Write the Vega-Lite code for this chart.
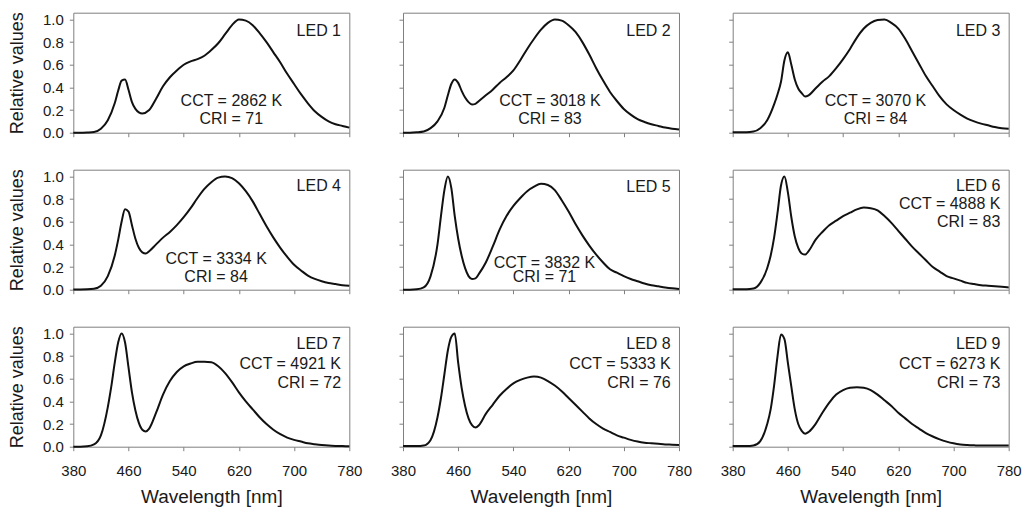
{
  "$schema": "https://vega.github.io/schema/vega-lite/v6.json",
  "padding": {"left": 7.3, "top": 10.7, "right": 5, "bottom": 2},
  "background": "white",
  "datasets": {
    "spectra": [
      {"led":"LED 1","wl":380,"v":0},{"led":"LED 1","wl":390,"v":0},{"led":"LED 1","wl":400,"v":0.002},{"led":"LED 1","wl":410,"v":0.006},{"led":"LED 1","wl":420,"v":0.035},{"led":"LED 1","wl":430,"v":0.11},{"led":"LED 1","wl":440,"v":0.26},{"led":"LED 1","wl":445,"v":0.37},{"led":"LED 1","wl":450,"v":0.46},{"led":"LED 1","wl":455,"v":0.47},{"led":"LED 1","wl":460,"v":0.38},{"led":"LED 1","wl":465,"v":0.27},{"led":"LED 1","wl":470,"v":0.21},{"led":"LED 1","wl":475,"v":0.18},{"led":"LED 1","wl":480,"v":0.17},{"led":"LED 1","wl":490,"v":0.2},{"led":"LED 1","wl":500,"v":0.3},{"led":"LED 1","wl":510,"v":0.41},{"led":"LED 1","wl":520,"v":0.49},{"led":"LED 1","wl":530,"v":0.55},{"led":"LED 1","wl":540,"v":0.6},{"led":"LED 1","wl":550,"v":0.63},{"led":"LED 1","wl":560,"v":0.65},{"led":"LED 1","wl":570,"v":0.68},{"led":"LED 1","wl":580,"v":0.73},{"led":"LED 1","wl":590,"v":0.79},{"led":"LED 1","wl":600,"v":0.87},{"led":"LED 1","wl":610,"v":0.95},{"led":"LED 1","wl":620,"v":1.0},{"led":"LED 1","wl":630,"v":0.99},{"led":"LED 1","wl":640,"v":0.95},{"led":"LED 1","wl":650,"v":0.88},{"led":"LED 1","wl":660,"v":0.8},{"led":"LED 1","wl":670,"v":0.71},{"led":"LED 1","wl":680,"v":0.62},{"led":"LED 1","wl":690,"v":0.52},{"led":"LED 1","wl":700,"v":0.43},{"led":"LED 1","wl":710,"v":0.34},{"led":"LED 1","wl":720,"v":0.26},{"led":"LED 1","wl":730,"v":0.19},{"led":"LED 1","wl":740,"v":0.14},{"led":"LED 1","wl":750,"v":0.1},{"led":"LED 1","wl":760,"v":0.075},{"led":"LED 1","wl":770,"v":0.06},{"led":"LED 1","wl":780,"v":0.045},

      {"led":"LED 2","wl":380,"v":0},{"led":"LED 2","wl":390,"v":0},{"led":"LED 2","wl":400,"v":0.003},{"led":"LED 2","wl":410,"v":0.01},{"led":"LED 2","wl":420,"v":0.04},{"led":"LED 2","wl":430,"v":0.1},{"led":"LED 2","wl":440,"v":0.22},{"led":"LED 2","wl":445,"v":0.33},{"led":"LED 2","wl":450,"v":0.43},{"led":"LED 2","wl":455,"v":0.47},{"led":"LED 2","wl":460,"v":0.44},{"led":"LED 2","wl":465,"v":0.37},{"led":"LED 2","wl":470,"v":0.31},{"led":"LED 2","wl":475,"v":0.27},{"led":"LED 2","wl":480,"v":0.25},{"led":"LED 2","wl":485,"v":0.255},{"led":"LED 2","wl":490,"v":0.28},{"led":"LED 2","wl":500,"v":0.33},{"led":"LED 2","wl":510,"v":0.38},{"led":"LED 2","wl":520,"v":0.44},{"led":"LED 2","wl":530,"v":0.49},{"led":"LED 2","wl":540,"v":0.55},{"led":"LED 2","wl":550,"v":0.64},{"led":"LED 2","wl":560,"v":0.74},{"led":"LED 2","wl":570,"v":0.83},{"led":"LED 2","wl":580,"v":0.91},{"led":"LED 2","wl":590,"v":0.97},{"led":"LED 2","wl":600,"v":1.0},{"led":"LED 2","wl":610,"v":0.99},{"led":"LED 2","wl":620,"v":0.95},{"led":"LED 2","wl":630,"v":0.89},{"led":"LED 2","wl":640,"v":0.8},{"led":"LED 2","wl":650,"v":0.69},{"led":"LED 2","wl":660,"v":0.57},{"led":"LED 2","wl":670,"v":0.46},{"led":"LED 2","wl":680,"v":0.36},{"led":"LED 2","wl":690,"v":0.28},{"led":"LED 2","wl":700,"v":0.21},{"led":"LED 2","wl":710,"v":0.16},{"led":"LED 2","wl":720,"v":0.12},{"led":"LED 2","wl":730,"v":0.095},{"led":"LED 2","wl":740,"v":0.075},{"led":"LED 2","wl":750,"v":0.06},{"led":"LED 2","wl":760,"v":0.045},{"led":"LED 2","wl":770,"v":0.035},{"led":"LED 2","wl":780,"v":0.028},

      {"led":"LED 3","wl":380,"v":0.005},{"led":"LED 3","wl":390,"v":0.005},{"led":"LED 3","wl":400,"v":0.005},{"led":"LED 3","wl":410,"v":0.01},{"led":"LED 3","wl":420,"v":0.04},{"led":"LED 3","wl":430,"v":0.11},{"led":"LED 3","wl":440,"v":0.25},{"led":"LED 3","wl":445,"v":0.34},{"led":"LED 3","wl":450,"v":0.45},{"led":"LED 3","wl":455,"v":0.64},{"led":"LED 3","wl":460,"v":0.71},{"led":"LED 3","wl":465,"v":0.6},{"led":"LED 3","wl":470,"v":0.47},{"led":"LED 3","wl":475,"v":0.39},{"led":"LED 3","wl":480,"v":0.35},{"led":"LED 3","wl":485,"v":0.32},{"led":"LED 3","wl":490,"v":0.33},{"led":"LED 3","wl":500,"v":0.39},{"led":"LED 3","wl":510,"v":0.45},{"led":"LED 3","wl":520,"v":0.5},{"led":"LED 3","wl":530,"v":0.57},{"led":"LED 3","wl":540,"v":0.65},{"led":"LED 3","wl":550,"v":0.74},{"led":"LED 3","wl":560,"v":0.84},{"led":"LED 3","wl":570,"v":0.92},{"led":"LED 3","wl":580,"v":0.97},{"led":"LED 3","wl":590,"v":0.995},{"led":"LED 3","wl":600,"v":1.0},{"led":"LED 3","wl":610,"v":0.97},{"led":"LED 3","wl":620,"v":0.92},{"led":"LED 3","wl":630,"v":0.83},{"led":"LED 3","wl":640,"v":0.72},{"led":"LED 3","wl":650,"v":0.61},{"led":"LED 3","wl":660,"v":0.5},{"led":"LED 3","wl":670,"v":0.41},{"led":"LED 3","wl":680,"v":0.32},{"led":"LED 3","wl":690,"v":0.25},{"led":"LED 3","wl":700,"v":0.2},{"led":"LED 3","wl":710,"v":0.16},{"led":"LED 3","wl":720,"v":0.125},{"led":"LED 3","wl":730,"v":0.1},{"led":"LED 3","wl":740,"v":0.08},{"led":"LED 3","wl":750,"v":0.065},{"led":"LED 3","wl":760,"v":0.05},{"led":"LED 3","wl":770,"v":0.04},{"led":"LED 3","wl":780,"v":0.035},

      {"led":"LED 4","wl":380,"v":0.002},{"led":"LED 4","wl":390,"v":0.002},{"led":"LED 4","wl":400,"v":0.003},{"led":"LED 4","wl":410,"v":0.008},{"led":"LED 4","wl":420,"v":0.035},{"led":"LED 4","wl":430,"v":0.12},{"led":"LED 4","wl":440,"v":0.3},{"led":"LED 4","wl":445,"v":0.44},{"led":"LED 4","wl":450,"v":0.6},{"led":"LED 4","wl":455,"v":0.71},{"led":"LED 4","wl":460,"v":0.69},{"led":"LED 4","wl":465,"v":0.57},{"led":"LED 4","wl":470,"v":0.45},{"led":"LED 4","wl":475,"v":0.37},{"led":"LED 4","wl":480,"v":0.33},{"led":"LED 4","wl":485,"v":0.32},{"led":"LED 4","wl":490,"v":0.34},{"led":"LED 4","wl":500,"v":0.4},{"led":"LED 4","wl":510,"v":0.46},{"led":"LED 4","wl":520,"v":0.51},{"led":"LED 4","wl":530,"v":0.57},{"led":"LED 4","wl":540,"v":0.64},{"led":"LED 4","wl":550,"v":0.72},{"led":"LED 4","wl":560,"v":0.81},{"led":"LED 4","wl":570,"v":0.89},{"led":"LED 4","wl":580,"v":0.95},{"led":"LED 4","wl":590,"v":0.99},{"led":"LED 4","wl":600,"v":1.0},{"led":"LED 4","wl":610,"v":0.985},{"led":"LED 4","wl":620,"v":0.94},{"led":"LED 4","wl":630,"v":0.87},{"led":"LED 4","wl":640,"v":0.78},{"led":"LED 4","wl":650,"v":0.67},{"led":"LED 4","wl":660,"v":0.56},{"led":"LED 4","wl":670,"v":0.46},{"led":"LED 4","wl":680,"v":0.37},{"led":"LED 4","wl":690,"v":0.29},{"led":"LED 4","wl":700,"v":0.22},{"led":"LED 4","wl":710,"v":0.17},{"led":"LED 4","wl":720,"v":0.125},{"led":"LED 4","wl":730,"v":0.095},{"led":"LED 4","wl":740,"v":0.075},{"led":"LED 4","wl":750,"v":0.06},{"led":"LED 4","wl":760,"v":0.05},{"led":"LED 4","wl":770,"v":0.04},{"led":"LED 4","wl":780,"v":0.035},

      {"led":"LED 5","wl":380,"v":0},{"led":"LED 5","wl":390,"v":0},{"led":"LED 5","wl":400,"v":0.003},{"led":"LED 5","wl":410,"v":0.02},{"led":"LED 5","wl":420,"v":0.12},{"led":"LED 5","wl":430,"v":0.4},{"led":"LED 5","wl":435,"v":0.65},{"led":"LED 5","wl":440,"v":0.88},{"led":"LED 5","wl":445,"v":1.0},{"led":"LED 5","wl":450,"v":0.9},{"led":"LED 5","wl":455,"v":0.65},{"led":"LED 5","wl":460,"v":0.45},{"led":"LED 5","wl":465,"v":0.3},{"led":"LED 5","wl":470,"v":0.19},{"led":"LED 5","wl":475,"v":0.12},{"led":"LED 5","wl":480,"v":0.095},{"led":"LED 5","wl":485,"v":0.1},{"led":"LED 5","wl":490,"v":0.14},{"led":"LED 5","wl":500,"v":0.24},{"led":"LED 5","wl":510,"v":0.38},{"led":"LED 5","wl":520,"v":0.53},{"led":"LED 5","wl":530,"v":0.65},{"led":"LED 5","wl":540,"v":0.74},{"led":"LED 5","wl":550,"v":0.81},{"led":"LED 5","wl":560,"v":0.87},{"led":"LED 5","wl":570,"v":0.91},{"led":"LED 5","wl":580,"v":0.935},{"led":"LED 5","wl":590,"v":0.925},{"led":"LED 5","wl":600,"v":0.88},{"led":"LED 5","wl":610,"v":0.79},{"led":"LED 5","wl":620,"v":0.69},{"led":"LED 5","wl":630,"v":0.58},{"led":"LED 5","wl":640,"v":0.48},{"led":"LED 5","wl":650,"v":0.39},{"led":"LED 5","wl":660,"v":0.31},{"led":"LED 5","wl":670,"v":0.24},{"led":"LED 5","wl":680,"v":0.18},{"led":"LED 5","wl":690,"v":0.15},{"led":"LED 5","wl":700,"v":0.12},{"led":"LED 5","wl":710,"v":0.095},{"led":"LED 5","wl":720,"v":0.075},{"led":"LED 5","wl":730,"v":0.055},{"led":"LED 5","wl":740,"v":0.04},{"led":"LED 5","wl":750,"v":0.03},{"led":"LED 5","wl":760,"v":0.02},{"led":"LED 5","wl":770,"v":0.012},{"led":"LED 5","wl":780,"v":0.006},

      {"led":"LED 6","wl":380,"v":0.005},{"led":"LED 6","wl":390,"v":0.005},{"led":"LED 6","wl":400,"v":0.005},{"led":"LED 6","wl":410,"v":0.01},{"led":"LED 6","wl":420,"v":0.06},{"led":"LED 6","wl":430,"v":0.19},{"led":"LED 6","wl":435,"v":0.3},{"led":"LED 6","wl":440,"v":0.46},{"led":"LED 6","wl":445,"v":0.68},{"led":"LED 6","wl":450,"v":0.92},{"led":"LED 6","wl":455,"v":1.0},{"led":"LED 6","wl":460,"v":0.86},{"led":"LED 6","wl":465,"v":0.64},{"led":"LED 6","wl":470,"v":0.47},{"led":"LED 6","wl":475,"v":0.37},{"led":"LED 6","wl":480,"v":0.32},{"led":"LED 6","wl":485,"v":0.31},{"led":"LED 6","wl":490,"v":0.34},{"led":"LED 6","wl":500,"v":0.44},{"led":"LED 6","wl":510,"v":0.51},{"led":"LED 6","wl":520,"v":0.57},{"led":"LED 6","wl":530,"v":0.61},{"led":"LED 6","wl":540,"v":0.65},{"led":"LED 6","wl":550,"v":0.68},{"led":"LED 6","wl":560,"v":0.71},{"led":"LED 6","wl":570,"v":0.725},{"led":"LED 6","wl":580,"v":0.72},{"led":"LED 6","wl":590,"v":0.7},{"led":"LED 6","wl":600,"v":0.65},{"led":"LED 6","wl":610,"v":0.59},{"led":"LED 6","wl":620,"v":0.52},{"led":"LED 6","wl":630,"v":0.45},{"led":"LED 6","wl":640,"v":0.38},{"led":"LED 6","wl":650,"v":0.32},{"led":"LED 6","wl":660,"v":0.26},{"led":"LED 6","wl":670,"v":0.2},{"led":"LED 6","wl":680,"v":0.16},{"led":"LED 6","wl":690,"v":0.12},{"led":"LED 6","wl":700,"v":0.1},{"led":"LED 6","wl":710,"v":0.08},{"led":"LED 6","wl":720,"v":0.06},{"led":"LED 6","wl":730,"v":0.05},{"led":"LED 6","wl":740,"v":0.04},{"led":"LED 6","wl":750,"v":0.035},{"led":"LED 6","wl":760,"v":0.03},{"led":"LED 6","wl":770,"v":0.025},{"led":"LED 6","wl":780,"v":0.02},

      {"led":"LED 7","wl":380,"v":0},{"led":"LED 7","wl":390,"v":0},{"led":"LED 7","wl":400,"v":0.003},{"led":"LED 7","wl":410,"v":0.02},{"led":"LED 7","wl":420,"v":0.1},{"led":"LED 7","wl":430,"v":0.35},{"led":"LED 7","wl":435,"v":0.53},{"led":"LED 7","wl":440,"v":0.74},{"led":"LED 7","wl":445,"v":0.92},{"led":"LED 7","wl":450,"v":1.0},{"led":"LED 7","wl":455,"v":0.92},{"led":"LED 7","wl":460,"v":0.7},{"led":"LED 7","wl":465,"v":0.48},{"led":"LED 7","wl":470,"v":0.32},{"led":"LED 7","wl":475,"v":0.21},{"led":"LED 7","wl":480,"v":0.15},{"led":"LED 7","wl":485,"v":0.135},{"led":"LED 7","wl":490,"v":0.16},{"led":"LED 7","wl":500,"v":0.3},{"led":"LED 7","wl":510,"v":0.46},{"led":"LED 7","wl":520,"v":0.58},{"led":"LED 7","wl":530,"v":0.66},{"led":"LED 7","wl":540,"v":0.71},{"led":"LED 7","wl":550,"v":0.735},{"led":"LED 7","wl":560,"v":0.75},{"led":"LED 7","wl":570,"v":0.75},{"led":"LED 7","wl":580,"v":0.745},{"led":"LED 7","wl":590,"v":0.71},{"led":"LED 7","wl":600,"v":0.65},{"led":"LED 7","wl":610,"v":0.57},{"led":"LED 7","wl":620,"v":0.48},{"led":"LED 7","wl":630,"v":0.4},{"led":"LED 7","wl":640,"v":0.33},{"led":"LED 7","wl":650,"v":0.26},{"led":"LED 7","wl":660,"v":0.2},{"led":"LED 7","wl":670,"v":0.15},{"led":"LED 7","wl":680,"v":0.11},{"led":"LED 7","wl":690,"v":0.08},{"led":"LED 7","wl":700,"v":0.06},{"led":"LED 7","wl":710,"v":0.045},{"led":"LED 7","wl":720,"v":0.03},{"led":"LED 7","wl":730,"v":0.022},{"led":"LED 7","wl":740,"v":0.015},{"led":"LED 7","wl":750,"v":0.01},{"led":"LED 7","wl":760,"v":0.007},{"led":"LED 7","wl":770,"v":0.005},{"led":"LED 7","wl":780,"v":0.003},

      {"led":"LED 8","wl":380,"v":0.005},{"led":"LED 8","wl":390,"v":0.005},{"led":"LED 8","wl":400,"v":0.005},{"led":"LED 8","wl":410,"v":0.01},{"led":"LED 8","wl":420,"v":0.06},{"led":"LED 8","wl":430,"v":0.26},{"led":"LED 8","wl":435,"v":0.43},{"led":"LED 8","wl":440,"v":0.64},{"led":"LED 8","wl":445,"v":0.85},{"led":"LED 8","wl":450,"v":0.97},{"led":"LED 8","wl":455,"v":1.0},{"led":"LED 8","wl":460,"v":0.74},{"led":"LED 8","wl":465,"v":0.52},{"led":"LED 8","wl":470,"v":0.36},{"led":"LED 8","wl":475,"v":0.25},{"led":"LED 8","wl":480,"v":0.19},{"led":"LED 8","wl":485,"v":0.17},{"led":"LED 8","wl":490,"v":0.19},{"led":"LED 8","wl":500,"v":0.29},{"led":"LED 8","wl":510,"v":0.37},{"led":"LED 8","wl":520,"v":0.45},{"led":"LED 8","wl":530,"v":0.51},{"led":"LED 8","wl":540,"v":0.56},{"led":"LED 8","wl":550,"v":0.59},{"led":"LED 8","wl":560,"v":0.61},{"led":"LED 8","wl":570,"v":0.62},{"led":"LED 8","wl":580,"v":0.61},{"led":"LED 8","wl":590,"v":0.58},{"led":"LED 8","wl":600,"v":0.54},{"led":"LED 8","wl":610,"v":0.49},{"led":"LED 8","wl":620,"v":0.43},{"led":"LED 8","wl":630,"v":0.37},{"led":"LED 8","wl":640,"v":0.31},{"led":"LED 8","wl":650,"v":0.25},{"led":"LED 8","wl":660,"v":0.2},{"led":"LED 8","wl":670,"v":0.16},{"led":"LED 8","wl":680,"v":0.13},{"led":"LED 8","wl":690,"v":0.1},{"led":"LED 8","wl":700,"v":0.08},{"led":"LED 8","wl":710,"v":0.06},{"led":"LED 8","wl":720,"v":0.045},{"led":"LED 8","wl":730,"v":0.035},{"led":"LED 8","wl":740,"v":0.03},{"led":"LED 8","wl":750,"v":0.025},{"led":"LED 8","wl":760,"v":0.02},{"led":"LED 8","wl":770,"v":0.018},{"led":"LED 8","wl":780,"v":0.015},

      {"led":"LED 9","wl":380,"v":0.005},{"led":"LED 9","wl":390,"v":0.005},{"led":"LED 9","wl":400,"v":0.005},{"led":"LED 9","wl":410,"v":0.01},{"led":"LED 9","wl":420,"v":0.05},{"led":"LED 9","wl":430,"v":0.2},{"led":"LED 9","wl":435,"v":0.33},{"led":"LED 9","wl":440,"v":0.54},{"led":"LED 9","wl":445,"v":0.8},{"led":"LED 9","wl":450,"v":0.99},{"led":"LED 9","wl":455,"v":0.95},{"led":"LED 9","wl":460,"v":0.74},{"led":"LED 9","wl":465,"v":0.53},{"led":"LED 9","wl":470,"v":0.33},{"led":"LED 9","wl":475,"v":0.2},{"led":"LED 9","wl":480,"v":0.14},{"led":"LED 9","wl":485,"v":0.115},{"led":"LED 9","wl":490,"v":0.13},{"led":"LED 9","wl":500,"v":0.2},{"led":"LED 9","wl":510,"v":0.3},{"led":"LED 9","wl":520,"v":0.39},{"led":"LED 9","wl":530,"v":0.46},{"led":"LED 9","wl":540,"v":0.5},{"led":"LED 9","wl":550,"v":0.52},{"led":"LED 9","wl":560,"v":0.525},{"led":"LED 9","wl":570,"v":0.52},{"led":"LED 9","wl":580,"v":0.5},{"led":"LED 9","wl":590,"v":0.46},{"led":"LED 9","wl":600,"v":0.41},{"led":"LED 9","wl":610,"v":0.36},{"led":"LED 9","wl":620,"v":0.3},{"led":"LED 9","wl":630,"v":0.25},{"led":"LED 9","wl":640,"v":0.2},{"led":"LED 9","wl":650,"v":0.16},{"led":"LED 9","wl":660,"v":0.12},{"led":"LED 9","wl":670,"v":0.09},{"led":"LED 9","wl":680,"v":0.065},{"led":"LED 9","wl":690,"v":0.045},{"led":"LED 9","wl":700,"v":0.03},{"led":"LED 9","wl":710,"v":0.02},{"led":"LED 9","wl":720,"v":0.015},{"led":"LED 9","wl":730,"v":0.012},{"led":"LED 9","wl":740,"v":0.01},{"led":"LED 9","wl":750,"v":0.01},{"led":"LED 9","wl":760,"v":0.01},{"led":"LED 9","wl":770,"v":0.01},{"led":"LED 9","wl":780,"v":0.01}
    ],
    "notes": [
      {"led":"LED 1","note":"CCT = 2862 K\nCRI = 71"},
      {"led":"LED 2","note":"CCT = 3018 K\nCRI = 83"},
      {"led":"LED 3","note":"CCT = 3070 K\nCRI = 84"},
      {"led":"LED 4","note":"CCT = 3334 K\nCRI = 84"},
      {"led":"LED 5","note":"CCT = 3832 K\nCRI = 71"},
      {"led":"LED 6","note":"CCT = 4888 K\nCRI = 83"},
      {"led":"LED 7","note":"CCT = 4921 K\nCRI = 72"},
      {"led":"LED 8","note":"CCT = 5333 K\nCRI = 76"},
      {"led":"LED 9","note":"CCT = 6273 K\nCRI = 73"}
    ]
  },
  "data": {"name": "spectra"},
  "columns": 3,
  "spacing": {"row": 37, "column": 53.7},
  "bounds": "flush",
  "concat": [
    {"width": 276, "height": 120, "layer": [
      {"transform": [{"filter": "datum.led === 'LED 1'"}], "mark": {"type": "line", "interpolate": "monotone", "color": "#111111", "strokeWidth": 2},
       "encoding": {"x": {"field": "wl", "type": "quantitative", "scale": {"domain": [380, 780], "nice": false}, "axis": {"values": [380, 460, 540, 620, 700, 780], "labels": false, "title": null}},
                    "y": {"field": "v", "type": "quantitative", "scale": {"domain": [0, 1.06], "nice": false}, "axis": {"values": [0, 0.2, 0.4, 0.6, 0.8, 1], "format": ".1f", "labelOverlap": false, "title": "Relative values"}}}},
      {"data": {"name": "notes"}, "transform": [{"filter": "datum.led === 'LED 1'"}], "mark": {"type": "text", "align": "right", "baseline": "middle"},
       "encoding": {"x": {"datum": 768, "type": "quantitative", "axis": {"values": [380, 460, 540, 620, 700, 780], "labels": false, "title": null}}, "y": {"datum": 0.898, "type": "quantitative", "axis": {"values": [0, 0.2, 0.4, 0.6, 0.8, 1], "format": ".1f", "labelOverlap": false, "title": "Relative values"}}, "text": {"field": "led"}}},
      {"data": {"name": "notes"}, "transform": [{"filter": "datum.led === 'LED 1'"}], "mark": {"type": "text", "align": "center", "baseline": "middle", "lineBreak": "\n", "lineHeight": 18},
       "encoding": {"x": {"datum": 609, "type": "quantitative", "axis": {"values": [380, 460, 540, 620, 700, 780], "labels": false, "title": null}}, "y": {"datum": 0.284, "type": "quantitative", "axis": {"values": [0, 0.2, 0.4, 0.6, 0.8, 1], "format": ".1f", "labelOverlap": false, "title": "Relative values"}}, "text": {"field": "note"}}}
    ]},
    {"width": 276, "height": 120, "layer": [
      {"transform": [{"filter": "datum.led === 'LED 2'"}], "mark": {"type": "line", "interpolate": "monotone", "color": "#111111", "strokeWidth": 2},
       "encoding": {"x": {"field": "wl", "type": "quantitative", "scale": {"domain": [380, 780], "nice": false}, "axis": {"values": [380, 460, 540, 620, 700, 780], "labels": false, "title": null}},
                    "y": {"field": "v", "type": "quantitative", "scale": {"domain": [0, 1.06], "nice": false}, "axis": {"values": [0, 0.2, 0.4, 0.6, 0.8, 1], "labels": false, "title": null}}}},
      {"data": {"name": "notes"}, "transform": [{"filter": "datum.led === 'LED 2'"}], "mark": {"type": "text", "align": "right", "baseline": "middle"},
       "encoding": {"x": {"datum": 768, "type": "quantitative", "axis": {"values": [380, 460, 540, 620, 700, 780], "labels": false, "title": null}}, "y": {"datum": 0.898, "type": "quantitative", "axis": {"values": [0, 0.2, 0.4, 0.6, 0.8, 1], "labels": false, "title": null}}, "text": {"field": "led"}}},
      {"data": {"name": "notes"}, "transform": [{"filter": "datum.led === 'LED 2'"}], "mark": {"type": "text", "align": "center", "baseline": "middle", "lineBreak": "\n", "lineHeight": 18},
       "encoding": {"x": {"datum": 593, "type": "quantitative", "axis": {"values": [380, 460, 540, 620, 700, 780], "labels": false, "title": null}}, "y": {"datum": 0.284, "type": "quantitative", "axis": {"values": [0, 0.2, 0.4, 0.6, 0.8, 1], "labels": false, "title": null}}, "text": {"field": "note"}}}
    ]},
    {"width": 276, "height": 120, "layer": [
      {"transform": [{"filter": "datum.led === 'LED 3'"}], "mark": {"type": "line", "interpolate": "monotone", "color": "#111111", "strokeWidth": 2},
       "encoding": {"x": {"field": "wl", "type": "quantitative", "scale": {"domain": [380, 780], "nice": false}, "axis": {"values": [380, 460, 540, 620, 700, 780], "labels": false, "title": null}},
                    "y": {"field": "v", "type": "quantitative", "scale": {"domain": [0, 1.06], "nice": false}, "axis": {"values": [0, 0.2, 0.4, 0.6, 0.8, 1], "labels": false, "title": null}}}},
      {"data": {"name": "notes"}, "transform": [{"filter": "datum.led === 'LED 3'"}], "mark": {"type": "text", "align": "right", "baseline": "middle"},
       "encoding": {"x": {"datum": 768, "type": "quantitative", "axis": {"values": [380, 460, 540, 620, 700, 780], "labels": false, "title": null}}, "y": {"datum": 0.898, "type": "quantitative", "axis": {"values": [0, 0.2, 0.4, 0.6, 0.8, 1], "labels": false, "title": null}}, "text": {"field": "led"}}},
      {"data": {"name": "notes"}, "transform": [{"filter": "datum.led === 'LED 3'"}], "mark": {"type": "text", "align": "center", "baseline": "middle", "lineBreak": "\n", "lineHeight": 18},
       "encoding": {"x": {"datum": 587, "type": "quantitative", "axis": {"values": [380, 460, 540, 620, 700, 780], "labels": false, "title": null}}, "y": {"datum": 0.279, "type": "quantitative", "axis": {"values": [0, 0.2, 0.4, 0.6, 0.8, 1], "labels": false, "title": null}}, "text": {"field": "note"}}}
    ]},
    {"width": 276, "height": 120, "layer": [
      {"transform": [{"filter": "datum.led === 'LED 4'"}], "mark": {"type": "line", "interpolate": "monotone", "color": "#111111", "strokeWidth": 2},
       "encoding": {"x": {"field": "wl", "type": "quantitative", "scale": {"domain": [380, 780], "nice": false}, "axis": {"values": [380, 460, 540, 620, 700, 780], "labels": false, "title": null}},
                    "y": {"field": "v", "type": "quantitative", "scale": {"domain": [0, 1.06], "nice": false}, "axis": {"values": [0, 0.2, 0.4, 0.6, 0.8, 1], "format": ".1f", "labelOverlap": false, "title": "Relative values"}}}},
      {"data": {"name": "notes"}, "transform": [{"filter": "datum.led === 'LED 4'"}], "mark": {"type": "text", "align": "right", "baseline": "middle"},
       "encoding": {"x": {"datum": 768, "type": "quantitative", "axis": {"values": [380, 460, 540, 620, 700, 780], "labels": false, "title": null}}, "y": {"datum": 0.913, "type": "quantitative", "axis": {"values": [0, 0.2, 0.4, 0.6, 0.8, 1], "format": ".1f", "labelOverlap": false, "title": "Relative values"}}, "text": {"field": "led"}}},
      {"data": {"name": "notes"}, "transform": [{"filter": "datum.led === 'LED 4'"}], "mark": {"type": "text", "align": "center", "baseline": "middle", "lineBreak": "\n", "lineHeight": 18},
       "encoding": {"x": {"datum": 587, "type": "quantitative", "axis": {"values": [380, 460, 540, 620, 700, 780], "labels": false, "title": null}}, "y": {"datum": 0.274, "type": "quantitative", "axis": {"values": [0, 0.2, 0.4, 0.6, 0.8, 1], "format": ".1f", "labelOverlap": false, "title": "Relative values"}}, "text": {"field": "note"}}}
    ]},
    {"width": 276, "height": 120, "layer": [
      {"transform": [{"filter": "datum.led === 'LED 5'"}], "mark": {"type": "line", "interpolate": "monotone", "color": "#111111", "strokeWidth": 2},
       "encoding": {"x": {"field": "wl", "type": "quantitative", "scale": {"domain": [380, 780], "nice": false}, "axis": {"values": [380, 460, 540, 620, 700, 780], "labels": false, "title": null}},
                    "y": {"field": "v", "type": "quantitative", "scale": {"domain": [0, 1.06], "nice": false}, "axis": {"values": [0, 0.2, 0.4, 0.6, 0.8, 1], "labels": false, "title": null}}}},
      {"data": {"name": "notes"}, "transform": [{"filter": "datum.led === 'LED 5'"}], "mark": {"type": "text", "align": "right", "baseline": "middle"},
       "encoding": {"x": {"datum": 768, "type": "quantitative", "axis": {"values": [380, 460, 540, 620, 700, 780], "labels": false, "title": null}}, "y": {"datum": 0.91, "type": "quantitative", "axis": {"values": [0, 0.2, 0.4, 0.6, 0.8, 1], "labels": false, "title": null}}, "text": {"field": "led"}}},
      {"data": {"name": "notes"}, "transform": [{"filter": "datum.led === 'LED 5'"}], "mark": {"type": "text", "align": "center", "baseline": "middle", "lineBreak": "\n", "lineHeight": 14},
       "encoding": {"x": {"datum": 585, "type": "quantitative", "axis": {"values": [380, 460, 540, 620, 700, 780], "labels": false, "title": null}}, "y": {"datum": 0.24, "type": "quantitative", "axis": {"values": [0, 0.2, 0.4, 0.6, 0.8, 1], "labels": false, "title": null}}, "text": {"field": "note"}}}
    ]},
    {"width": 276, "height": 120, "layer": [
      {"transform": [{"filter": "datum.led === 'LED 6'"}], "mark": {"type": "line", "interpolate": "monotone", "color": "#111111", "strokeWidth": 2},
       "encoding": {"x": {"field": "wl", "type": "quantitative", "scale": {"domain": [380, 780], "nice": false}, "axis": {"values": [380, 460, 540, 620, 700, 780], "labels": false, "title": null}},
                    "y": {"field": "v", "type": "quantitative", "scale": {"domain": [0, 1.06], "nice": false}, "axis": {"values": [0, 0.2, 0.4, 0.6, 0.8, 1], "labels": false, "title": null}}}},
      {"data": {"name": "notes"}, "transform": [{"filter": "datum.led === 'LED 6'"}], "mark": {"type": "text", "align": "right", "baseline": "middle"},
       "encoding": {"x": {"datum": 768, "type": "quantitative", "axis": {"values": [380, 460, 540, 620, 700, 780], "labels": false, "title": null}}, "y": {"datum": 0.913, "type": "quantitative", "axis": {"values": [0, 0.2, 0.4, 0.6, 0.8, 1], "labels": false, "title": null}}, "text": {"field": "led"}}},
      {"data": {"name": "notes"}, "transform": [{"filter": "datum.led === 'LED 6'"}], "mark": {"type": "text", "align": "right", "baseline": "middle", "lineBreak": "\n", "lineHeight": 18.5},
       "encoding": {"x": {"datum": 768, "type": "quantitative", "axis": {"values": [380, 460, 540, 620, 700, 780], "labels": false, "title": null}}, "y": {"datum": 0.76, "type": "quantitative", "axis": {"values": [0, 0.2, 0.4, 0.6, 0.8, 1], "labels": false, "title": null}}, "text": {"field": "note"}}}
    ]},
    {"width": 276, "height": 120, "layer": [
      {"transform": [{"filter": "datum.led === 'LED 7'"}], "mark": {"type": "line", "interpolate": "monotone", "color": "#111111", "strokeWidth": 2},
       "encoding": {"x": {"field": "wl", "type": "quantitative", "scale": {"domain": [380, 780], "nice": false}, "axis": {"values": [380, 460, 540, 620, 700, 780], "labelOverlap": false, "title": "Wavelength [nm]"}},
                    "y": {"field": "v", "type": "quantitative", "scale": {"domain": [0, 1.06], "nice": false}, "axis": {"values": [0, 0.2, 0.4, 0.6, 0.8, 1], "format": ".1f", "labelOverlap": false, "title": "Relative values"}}}},
      {"data": {"name": "notes"}, "transform": [{"filter": "datum.led === 'LED 7'"}], "mark": {"type": "text", "align": "right", "baseline": "middle"},
       "encoding": {"x": {"datum": 768, "type": "quantitative", "axis": {"values": [380, 460, 540, 620, 700, 780], "labelOverlap": false, "title": "Wavelength [nm]"}}, "y": {"datum": 0.91, "type": "quantitative", "axis": {"values": [0, 0.2, 0.4, 0.6, 0.8, 1], "format": ".1f", "labelOverlap": false, "title": "Relative values"}}, "text": {"field": "led"}}},
      {"data": {"name": "notes"}, "transform": [{"filter": "datum.led === 'LED 7'"}], "mark": {"type": "text", "align": "right", "baseline": "middle", "lineBreak": "\n", "lineHeight": 19},
       "encoding": {"x": {"datum": 768, "type": "quantitative", "axis": {"values": [380, 460, 540, 620, 700, 780], "labelOverlap": false, "title": "Wavelength [nm]"}}, "y": {"datum": 0.733, "type": "quantitative", "axis": {"values": [0, 0.2, 0.4, 0.6, 0.8, 1], "format": ".1f", "labelOverlap": false, "title": "Relative values"}}, "text": {"field": "note"}}}
    ]},
    {"width": 276, "height": 120, "layer": [
      {"transform": [{"filter": "datum.led === 'LED 8'"}], "mark": {"type": "line", "interpolate": "monotone", "color": "#111111", "strokeWidth": 2},
       "encoding": {"x": {"field": "wl", "type": "quantitative", "scale": {"domain": [380, 780], "nice": false}, "axis": {"values": [380, 460, 540, 620, 700, 780], "labelOverlap": false, "title": "Wavelength [nm]"}},
                    "y": {"field": "v", "type": "quantitative", "scale": {"domain": [0, 1.06], "nice": false}, "axis": {"values": [0, 0.2, 0.4, 0.6, 0.8, 1], "labels": false, "title": null}}}},
      {"data": {"name": "notes"}, "transform": [{"filter": "datum.led === 'LED 8'"}], "mark": {"type": "text", "align": "right", "baseline": "middle"},
       "encoding": {"x": {"datum": 768, "type": "quantitative", "axis": {"values": [380, 460, 540, 620, 700, 780], "labelOverlap": false, "title": "Wavelength [nm]"}}, "y": {"datum": 0.91, "type": "quantitative", "axis": {"values": [0, 0.2, 0.4, 0.6, 0.8, 1], "labels": false, "title": null}}, "text": {"field": "led"}}},
      {"data": {"name": "notes"}, "transform": [{"filter": "datum.led === 'LED 8'"}], "mark": {"type": "text", "align": "right", "baseline": "middle", "lineBreak": "\n", "lineHeight": 19},
       "encoding": {"x": {"datum": 768, "type": "quantitative", "axis": {"values": [380, 460, 540, 620, 700, 780], "labelOverlap": false, "title": "Wavelength [nm]"}}, "y": {"datum": 0.733, "type": "quantitative", "axis": {"values": [0, 0.2, 0.4, 0.6, 0.8, 1], "labels": false, "title": null}}, "text": {"field": "note"}}}
    ]},
    {"width": 276, "height": 120, "layer": [
      {"transform": [{"filter": "datum.led === 'LED 9'"}], "mark": {"type": "line", "interpolate": "monotone", "color": "#111111", "strokeWidth": 2},
       "encoding": {"x": {"field": "wl", "type": "quantitative", "scale": {"domain": [380, 780], "nice": false}, "axis": {"values": [380, 460, 540, 620, 700, 780], "labelOverlap": false, "title": "Wavelength [nm]"}},
                    "y": {"field": "v", "type": "quantitative", "scale": {"domain": [0, 1.06], "nice": false}, "axis": {"values": [0, 0.2, 0.4, 0.6, 0.8, 1], "labels": false, "title": null}}}},
      {"data": {"name": "notes"}, "transform": [{"filter": "datum.led === 'LED 9'"}], "mark": {"type": "text", "align": "right", "baseline": "middle"},
       "encoding": {"x": {"datum": 768, "type": "quantitative", "axis": {"values": [380, 460, 540, 620, 700, 780], "labelOverlap": false, "title": "Wavelength [nm]"}}, "y": {"datum": 0.91, "type": "quantitative", "axis": {"values": [0, 0.2, 0.4, 0.6, 0.8, 1], "labels": false, "title": null}}, "text": {"field": "led"}}},
      {"data": {"name": "notes"}, "transform": [{"filter": "datum.led === 'LED 9'"}], "mark": {"type": "text", "align": "right", "baseline": "middle", "lineBreak": "\n", "lineHeight": 19},
       "encoding": {"x": {"datum": 768, "type": "quantitative", "axis": {"values": [380, 460, 540, 620, 700, 780], "labelOverlap": false, "title": "Wavelength [nm]"}}, "y": {"datum": 0.733, "type": "quantitative", "axis": {"values": [0, 0.2, 0.4, 0.6, 0.8, 1], "labels": false, "title": null}}, "text": {"field": "note"}}}
    ]}
  ],
  "config": {
    "font": "Liberation Sans",
    "view": {"stroke": "#808080", "strokeWidth": 1},
    "axis": {"grid": false, "domain": false, "ticks": true, "tickColor": "#808080", "tickSize": 4, "labelFont": "Liberation Sans", "labelFontSize": 15, "labelColor": "#1a1a1a", "labelOverlap": false, "labelSeparation": 0, "titleFont": "Liberation Sans", "titleFontSize": 18, "titleFontWeight": "normal", "titleColor": "#1a1a1a"},
    "axisX": {"labelFlush": false, "labelPadding": 13, "titlePadding": 9, "titleFontSize": 19},
    "axisY": {"labelPadding": 6, "titlePadding": 16},
    "text": {"font": "Liberation Sans", "fontSize": 16, "color": "#1a1a1a"}
  }
}
